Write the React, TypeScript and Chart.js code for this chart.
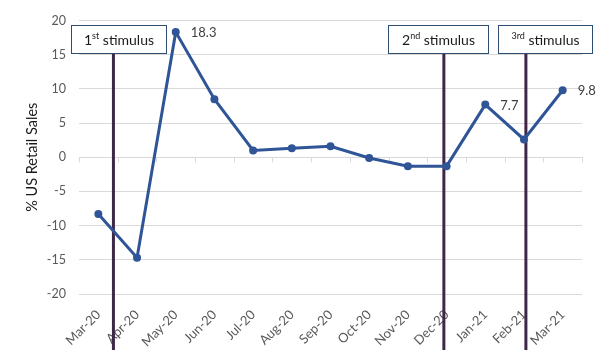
import React, { useEffect, useRef } from "react";
import { Chart, registerables } from "chart.js";

Chart.register(...registerables);

const categories = [
  "Mar-20", "Apr-20", "May-20", "Jun-20", "Jul-20", "Aug-20", "Sep-20",
  "Oct-20", "Nov-20", "Dec-20", "Jan-21", "Feb-21", "Mar-21",
];
const retailSalesChange = [-8.3, -14.7, 18.3, 8.5, 1.0, 1.3, 1.6, -0.1, -1.3, -1.3, 7.7, 2.6, 9.8];
const labelledPoints = [2, 10, 12];
const yMin = -20;
const yMax = 20;
const yStep = 5;
const yTitle = "% US Retail Sales";

// stimulus markers: position on the category axis (index units)
const stimulusAt = [0.39, 8.93, 11.05];
// label text segments: [text, isSuperscript]
const stimulusLabels: [string, boolean][][] = [
  [["1", false], ["st", true], [" stimulus", false]],
  [["2", false], ["nd", true], [" stimulus", false]],
  [["3rd", true], [" stimulus", false]],
];
// label box extent in axis units: [leftIndex, rightIndex]
const stimulusBoxX = [
  [-0.7, 1.75],
  [7.48, 10.06],
  [10.32, 12.77],
];
const stimulusBoxY = [19.3, 15.3];

const FONT = "Lato";

function idxToPx(scale: any, v: number) {
  const i0 = Math.floor(v);
  const p0 = scale.getPixelForValue(i0);
  const p1 = scale.getPixelForValue(i0 + 1);
  return p0 + (p1 - p0) * (v - i0);
}

const annotationPlugin = {
  id: "stimulus",
  beforeDatasetsDraw(chart: any) {
    const { ctx, scales, chartArea } = chart;
    const x = scales.x;
    const y = scales.y;
    // small tick marks on the zero axis
    const y0 = y.getPixelForValue(0);
    ctx.save();
    ctx.strokeStyle = "#D9D9D9";
    ctx.lineWidth = 1;
    for (let i = 0; i <= categories.length; i++) {
      const px = Math.round(idxToPx(x, i - 0.5)) + 0.5;
      ctx.beginPath();
      ctx.moveTo(px, y0);
      ctx.lineTo(px, y0 + 5);
      ctx.stroke();
    }
    // vertical stimulus lines
    ctx.strokeStyle = "#3F2748";
    ctx.lineWidth = 3;
    const top = y.getPixelForValue(stimulusBoxY[1]);
    stimulusAt.forEach((v) => {
      const px = idxToPx(x, v);
      ctx.beginPath();
      ctx.moveTo(px, top);
      ctx.lineTo(px, chartArea.bottom + 56);
      ctx.stroke();
    });
    ctx.restore();
  },
  afterDatasetsDraw(chart: any) {
    const { ctx, scales } = chart;
    const x = scales.x;
    const y = scales.y;
    const meta = chart.getDatasetMeta(0);
    ctx.save();
    // data labels
    ctx.fillStyle = "#404040";
    ctx.font = `13px ${FONT}`;
    ctx.textBaseline = "middle";
    ctx.textAlign = "left";
    labelledPoints.forEach((i) => {
      const el = meta.data[i];
      ctx.fillText(retailSalesChange[i].toFixed(1), el.x + 15, el.y + 1);
    });
    // stimulus boxes
    const bt = y.getPixelForValue(stimulusBoxY[0]);
    const bb = y.getPixelForValue(stimulusBoxY[1]);
    stimulusBoxX.forEach((bx, k) => {
      const l = Math.round(idxToPx(x, bx[0])) + 0.5;
      const r = Math.round(idxToPx(x, bx[1])) + 0.5;
      const t = Math.round(bt) + 0.5;
      const b = Math.round(bb) + 0.5;
      ctx.fillStyle = "#FFFFFF";
      ctx.fillRect(l, t, r - l, b - t);
      ctx.strokeStyle = "#2E4D73";
      ctx.lineWidth = 1;
      ctx.strokeRect(l, t, r - l, b - t);
      const parts = stimulusLabels[k];
      let total = 0;
      parts.forEach(([s, sup]) => {
        ctx.font = sup ? `9px ${FONT}` : `14px ${FONT}`;
        total += ctx.measureText(s).width;
      });
      let cx = (l + r) / 2 - total / 2;
      const cy = (t + b) / 2 + 1;
      ctx.fillStyle = "#1A1A1A";
      ctx.textAlign = "left";
      ctx.textBaseline = "middle";
      parts.forEach(([s, sup]) => {
        ctx.font = sup ? `9px ${FONT}` : `14px ${FONT}`;
        ctx.fillText(s, cx, sup ? cy - 4 : cy);
        cx += ctx.measureText(s).width;
      });
    });
    ctx.restore();
  },
};

export default function App() {
  const ref = useRef<HTMLCanvasElement | null>(null);
  useEffect(() => {
    document.body.style.margin = "0";
    if (!ref.current) return;
    const chart = new Chart(ref.current, {
      type: "line",
      data: {
        labels: categories,
        datasets: [
          {
            data: retailSalesChange,
            borderColor: "#2F5597",
            backgroundColor: "#2F5597",
            borderWidth: 3,
            pointRadius: 4,
            pointBorderWidth: 0,
            pointBackgroundColor: "#2F5597",
            tension: 0,
          },
        ],
      },
      options: {
        responsive: false,
        animation: false,
        events: [],
        layout: { padding: { top: 18, right: 19, left: 0, bottom: 0 } },
        plugins: { legend: { display: false }, tooltip: { enabled: false } },
        scales: {
          x: {
            type: "category",
            offset: true,
            grid: { display: false, drawTicks: false },
            border: { display: false },
            ticks: {
              autoSkip: false,
              maxRotation: 45,
              minRotation: 45,
              padding: 13,
              color: "#595959",
              font: { family: FONT, size: 13 },
            },
            afterFit: (s: any) => {
              s.height = 68;
            },
          },
          y: {
            min: yMin,
            max: yMax,
            ticks: {
              stepSize: yStep,
              padding: 13,
              color: "#595959",
              font: { family: FONT, size: 12.5 },
            },
            grid: { color: "#D9D9D9", drawTicks: false, lineWidth: 1 },
            border: { display: false },
            title: {
              display: true,
              text: yTitle,
              color: "#1A1A1A",
              font: { family: FONT, size: 14.5 },
              padding: { top: 24, bottom: 0 },
            },
            afterFit: (s: any) => {
              s.width = 79;
            },
          },
        },
      },
      plugins: [annotationPlugin],
    });
    return () => chart.destroy();
  }, []);
  return (
    <div style={{ position: "absolute", left: 0, top: 0, width: 601, height: 362, background: "#fff" }}>
      <canvas ref={ref} width={601} height={362} style={{ width: 601, height: 362 }} />
    </div>
  );
}
